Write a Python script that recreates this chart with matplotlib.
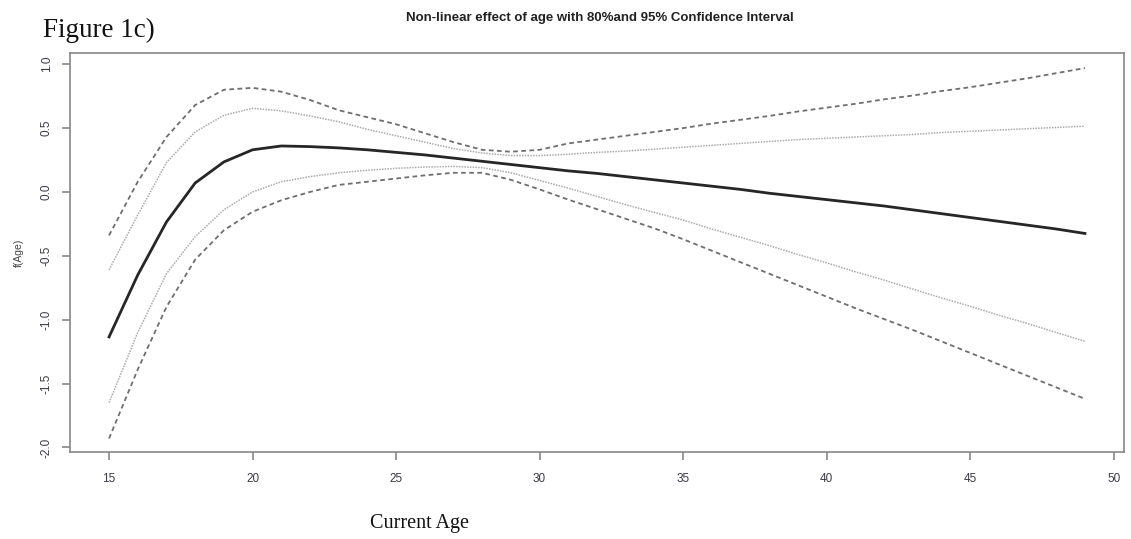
import numpy as np
import matplotlib
matplotlib.use("Agg")
from matplotlib import pyplot as plt

# fitted smooth of age, with 80% and 95% bands
age = np.arange(15, 50)

fit = [-1.135, -0.65, -0.235, 0.07, 0.235, 0.33, 0.36, 0.355, 0.345, 0.33,
       0.31, 0.29, 0.265, 0.24, 0.215, 0.19, 0.165, 0.145, 0.12, 0.095,
       0.07, 0.045, 0.02, -0.01, -0.035, -0.06, -0.085, -0.11, -0.14, -0.17,
       -0.2, -0.23, -0.26, -0.29, -0.325]

upper95 = [-0.34, 0.08, 0.43, 0.68, 0.80, 0.815, 0.785, 0.72, 0.64, 0.585,
           0.53, 0.46, 0.39, 0.33, 0.315, 0.33, 0.38, 0.41, 0.44, 0.47,
           0.50, 0.535, 0.565, 0.595, 0.63, 0.66, 0.69, 0.725, 0.755, 0.79,
           0.82, 0.855, 0.89, 0.93, 0.97]

upper80 = [-0.61, -0.18, 0.23, 0.47, 0.60, 0.655, 0.635, 0.595, 0.55, 0.49,
           0.44, 0.39, 0.34, 0.305, 0.285, 0.285, 0.295, 0.31, 0.32, 0.335,
           0.35, 0.365, 0.38, 0.395, 0.41, 0.42, 0.43, 0.44, 0.45, 0.465,
           0.475, 0.485, 0.495, 0.505, 0.515]

lower80 = [-1.65, -1.10, -0.64, -0.35, -0.14, 0.0, 0.08, 0.12, 0.15, 0.17,
           0.185, 0.195, 0.2, 0.19, 0.15, 0.09, 0.03, -0.035, -0.10, -0.16,
           -0.22, -0.29, -0.355, -0.42, -0.49, -0.555, -0.625, -0.69, -0.76, -0.83,
           -0.895, -0.965, -1.03, -1.10, -1.17]

lower95 = [-1.93, -1.39, -0.90, -0.53, -0.30, -0.155, -0.065, 0.0, 0.055, 0.08,
           0.105, 0.13, 0.15, 0.15, 0.095, 0.02, -0.06, -0.135, -0.21, -0.285,
           -0.37, -0.46, -0.55, -0.64, -0.73, -0.82, -0.91, -0.995, -1.08, -1.17,
           -1.26, -1.35, -1.44, -1.53, -1.62]

xticks = [15, 20, 25, 30, 35, 40, 45, 50]
yticks = [1.0, 0.5, 0.0, -0.5, -1.0, -1.5, -2.0]

fig = plt.figure(figsize=(11.31, 5.39), dpi=100)
ax = fig.add_axes([0.0619, 0.1614, 0.9319, 0.7403])

ax.plot(age, upper95, color="#6e6e6e", lw=1.3, ls=(0, (2.6, 1.9)))
ax.plot(age, lower95, color="#6e6e6e", lw=1.3, ls=(0, (2.6, 1.9)))
ax.plot(age, upper80, color="#ababab", lw=1.1, ls=(0, (1, 0.8)))
ax.plot(age, lower80, color="#ababab", lw=1.1, ls=(0, (1, 0.8)))
ax.plot(age, fit, color="#262626", lw=2.0)

ax.set_xlim(13.64, 50.36)
ax.set_ylim(-2.036, 1.088)
ax.set_xticks(xticks)
ax.set_yticks(yticks)
ax.set_xticklabels([str(t) for t in xticks], family="Liberation Sans")
ax.set_yticklabels(["%.1f" % t for t in yticks], rotation=90, va="center",
                   family="Liberation Sans")

for s in ax.spines.values():
    s.set_color("#888888")
    s.set_linewidth(1.2)
ax.tick_params(colors="#888888", labelcolor="#3a3a48", labelsize=8.5,
               length=5.5, width=1.2)
ax.tick_params(axis="x", pad=9.5)
ax.tick_params(axis="y", pad=7)

ax.set_ylabel("f(Age)", fontsize=7.5, color="#444444", labelpad=12,
              family="Liberation Sans")

fig.text(0.53, 0.967, "Non-linear effect of age with 80%and 95% Confidence Interval",
         ha="center", va="center", fontsize=9.5, fontweight="bold",
         family="Liberation Sans", color="#222222")
fig.text(0.038, 0.944, "Figure 1c)", ha="left", va="center", fontsize=19.5,
         family="Liberation Serif", color="#111111")
fig.text(0.371, 0.029, "Current Age", ha="center", va="center", fontsize=14.5,
         family="Liberation Serif", color="#111111")

fig.savefig("out.png", dpi=100)
